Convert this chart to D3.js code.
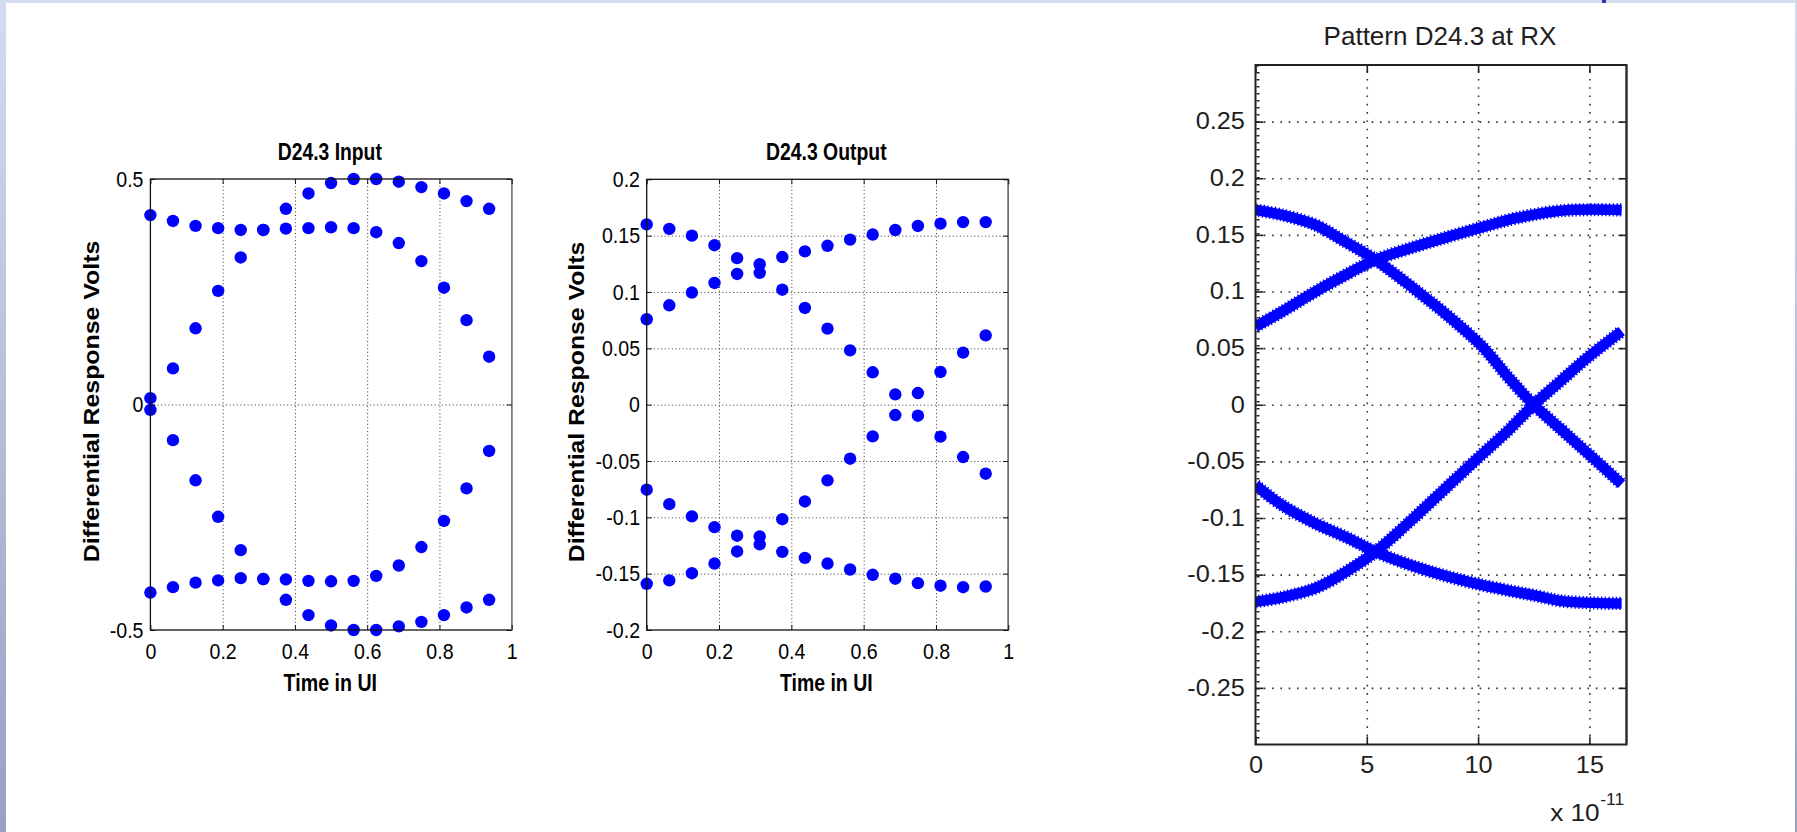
<!DOCTYPE html>
<html><head><meta charset="utf-8">
<script src="https://cdn.jsdelivr.net/npm/d3@7"></script>
<style>
html,body{margin:0;padding:0;background:#fff;}
svg{display:block;}
text{font-family:"Liberation Sans",Arial,Helvetica,sans-serif;}
</style></head><body>
<svg id="c" width="1797" height="832"></svg>
<script>
// ---------------- DATA ----------------
// Panel 1: D24.3 Input (time in UI, volts)
const inputTime   = [0,0.0625,0.125,0.1875,0.25,0.3125,0.375,0.4375,0.5,0.5625,0.625,0.6875,0.75,0.8125,0.875,0.9375];
const inputUpperA = [0.420,0.407,0.396,0.391,0.387,0.387,0.434,0.468,0.491,0.500,0.500,0.494,0.482,0.468,0.451,0.434];
const inputUpperB = [0.014,0.080,0.169,0.252,0.326,0.387,0.390,0.391,0.393,0.391,0.382,0.358,0.318,0.259,0.187,0.106];
const inputLowerA = [-0.417,-0.405,-0.395,-0.390,-0.385,-0.387,-0.433,-0.467,-0.490,-0.500,-0.500,-0.492,-0.482,-0.467,-0.450,-0.433];
const inputLowerB = [-0.012,-0.079,-0.168,-0.249,-0.323,-0.387,-0.388,-0.391,-0.392,-0.391,-0.380,-0.357,-0.316,-0.258,-0.186,-0.103];
const inputXTicks = [0,0.2,0.4,0.6,0.8,1];
const inputXTickLabels = ["0","0.2","0.4","0.6","0.8","1"];
const inputYTicks = [-0.5,0,0.5];
const inputYTickLabels = ["-0.5","0","0.5"];

// Panel 2: D24.3 Output
const outputTime   = [0,0.0625,0.125,0.1875,0.25,0.3125,0.375,0.4375,0.5,0.5625,0.625,0.6875,0.75,0.8125,0.875,0.9375];
const outputUpperA = [0.160,0.156,0.150,0.1415,0.130,0.1246,0.102,0.0858,0.0675,0.0482,0.0287,0.0091,0.0103,0.029,0.0462,0.0615];
const outputUpperB = [0.0758,0.0882,0.0995,0.108,0.116,0.117,0.131,0.136,0.141,0.1465,0.151,0.155,0.1586,0.1607,0.162,0.162];
const outputLowerA = [-0.0755,-0.0883,-0.0992,-0.1087,-0.1163,-0.117,-0.1307,-0.136,-0.141,-0.1463,-0.151,-0.1545,-0.1584,-0.1607,-0.162,-0.1614];
const outputLowerB = [-0.159,-0.156,-0.1496,-0.141,-0.1303,-0.124,-0.1017,-0.0859,-0.0672,-0.048,-0.0282,-0.0092,-0.0098,-0.0284,-0.0465,-0.0613];
const outputXTicks = [0,0.2,0.4,0.6,0.8,1];
const outputXTickLabels = ["0","0.2","0.4","0.6","0.8","1"];
const outputYTicks = [-0.2,-0.15,-0.1,-0.05,0,0.05,0.1,0.15,0.2];
const outputYTickLabels = ["-0.2","-0.15","-0.1","-0.05","0","0.05","0.1","0.15","0.2"];

// Panel 3: Pattern D24.3 at RX (time in units of 1e-11 s, volts)
const rxTraceAx = [0,1.19,2.69,3.89,5.39,7.19,8.69,10.19,11.39,12.5,13.77,14.88,16.45];
const rxTraceAy = [0.172,0.1677,0.1588,0.1456,0.128,0.1014,0.0778,0.0513,0.0235,0.0,-0.0225,-0.042,-0.070];
const rxTraceBx = [0,1.19,2.69,4.19,5.39,7.19,8.69,10.19,11.69,13.77,16.45];
const rxTraceBy = [0.069,0.0822,0.0999,0.1161,0.128,0.1397,0.1485,0.1568,0.1647,0.1714,0.172];
const rxTraceCx = [0,1.19,2.69,4.19,5.39,7.19,8.69,10.06,11.39,12.5,13.77,14.88,16.45];
const rxTraceCy = [-0.174,-0.170,-0.162,-0.146,-0.1298,-0.0985,-0.071,-0.0459,-0.022,0.0,0.022,0.041,0.065];
const rxTraceDx = [0,1.19,2.69,4.19,5.39,7.19,8.69,10.19,11.69,12.7,13.77,16.45];
const rxTraceDy = [-0.0709,-0.0886,-0.1048,-0.118,-0.1298,-0.1431,-0.1519,-0.1593,-0.1652,-0.169,-0.1734,-0.1755];
const rxXTicks = [0,5,10,15];
const rxXTickLabels = ["0","5","10","15"];
const rxYTicks = [-0.25,-0.2,-0.15,-0.1,-0.05,0,0.05,0.1,0.15,0.2,0.25];
const rxYTickLabels = ["-0.25","-0.2","-0.15","-0.1","-0.05","0","0.05","0.1","0.15","0.2","0.25"];

// ---------------- DRAWING ----------------
const svg = d3.select("#c");
const defs = svg.append("defs");
const grad = defs.append("linearGradient").attr("id","edge").attr("x1",0).attr("y1",0).attr("x2",0).attr("y2",1);
grad.append("stop").attr("offset","0%").attr("stop-color","#d3dbef");
grad.append("stop").attr("offset","100%").attr("stop-color","#96a2c2");

svg.append("rect").attr("width",1797).attr("height",832).attr("fill","#fff");
svg.append("rect").attr("x",0).attr("y",0).attr("width",1797).attr("height",3).attr("fill","#d4dcf0");
svg.append("rect").attr("x",0).attr("y",0).attr("width",6).attr("height",832).attr("fill","url(#edge)");
svg.append("rect").attr("x",1795).attr("y",0).attr("width",2).attr("height",832).attr("fill","url(#edge)");
svg.append("rect").attr("x",1602).attr("y",0).attr("width",4).attr("height",3).attr("fill","#2b3aa6");

function fitText(sel, width, squish, baseTransform){
  const w0 = sel.node().getComputedTextLength();
  sel.attr("transform", `${baseTransform} scale(${width / w0},${squish})`);
}

function panel(o){
  const x = d3.scaleLinear().domain(o.xDomain).range([o.left, o.right]);
  const y = d3.scaleLinear().domain(o.yDomain).range([o.bottom, o.top]);
  const W = o.right - o.left, H = o.bottom - o.top;
  const root = svg.append("g");

  // grid
  const gx = root.append("g").attr("transform", `translate(0,${o.bottom})`)
    .call(d3.axisBottom(x).tickValues(o.xGrid).tickSize(-H).tickFormat(""));
  const gy = root.append("g").attr("transform", `translate(${o.left},0)`)
    .call(d3.axisLeft(y).tickValues(o.yGrid).tickSize(-W).tickFormat(""));
  [gx, gy].forEach(g => {
    g.select(".domain").remove();
    g.selectAll("text").remove();
    g.selectAll("line").attr("stroke", o.gridColor).attr("stroke-width", o.gridW).attr("stroke-dasharray", o.gridDash);
  });

  // data
  const clipId = "clip" + o.id;
  defs.append("clipPath").attr("id", clipId).append("rect")
    .attr("x", o.left).attr("y", o.top).attr("width", W).attr("height", H);
  const data = root.append("g");
  if (o.dotSeries) {
    o.dotSeries.forEach(s => {
      data.selectAll(null).data(s.y).enter().append("circle")
        .attr("cx", (d,i) => x(s.x[i])).attr("cy", d => y(d)).attr("r", 6.2).attr("fill", "#0000ff");
    });
  }
  if (o.bandSeries) {
    const dg = data.append("g").attr("clip-path", `url(#${clipId})`);
    const line = d3.line().x(d => x(d[0])).y(d => y(d[1])).curve(d3.curveCatmullRom.alpha(0.5));
    o.bandSeries.forEach(s => {
      const pts = s.x.map((v,i) => [v, s.y[i]]);
      dg.append("path").attr("d", line(pts)).attr("fill","none").attr("stroke","#0000ff")
        .attr("stroke-width", 10.5).attr("stroke-linejoin","round");
      dg.append("path").attr("d", line(pts)).attr("fill","none").attr("stroke","#0000ff")
        .attr("stroke-width", 13.2).attr("stroke-dasharray","1.3,2.4");
    });
  }

  // box
  root.append("rect").attr("x", o.left).attr("y", o.top).attr("width", W).attr("height", H)
    .attr("fill","none").attr("stroke", o.boxColor).attr("stroke-width", o.boxW);
  root.append("line").attr("x1", o.right).attr("x2", o.right).attr("y1", o.top).attr("y2", o.bottom)
    .attr("stroke", o.rightColor).attr("stroke-width", o.boxW);
  if (o.minorLeft) {
    root.append("line").attr("x1", o.left + 2.5).attr("x2", o.left + 2.5).attr("y1", o.top).attr("y2", o.bottom)
      .attr("stroke", "#222").attr("stroke-width", 3).attr("stroke-dasharray", "1.4,5.6");
  }

  // ticks with labels
  const tickStyle = g => {
    g.attr("font-size", null).attr("font-family", null);
    g.select(".domain").remove();
    g.selectAll(".tick line").attr("stroke", o.boxColor).attr("stroke-width", o.tickW);
    g.selectAll(".tick text").attr("font-size", o.tickFont).attr("fill", o.textColor)
      .attr("transform", `scale(${o.sx},1)`);
  };
  root.append("g").attr("transform", `translate(${o.left},0)`)
    .call(d3.axisLeft(y).tickValues(o.yTicks).tickFormat((d,i) => o.yLabels[i])
      .tickSizeInner(-o.tickLen).tickSizeOuter(0).tickPadding(o.yGap / o.sx))
    .call(tickStyle);
  root.append("g").attr("transform", `translate(0,${o.bottom})`)
    .call(d3.axisBottom(x).tickValues(o.xTicks).tickFormat((d,i) => o.xLabels[i])
      .tickSizeInner(-o.tickLen).tickSizeOuter(0).tickPadding(o.xBase - 0.71 * o.tickFont))
    .call(tickStyle);
  root.append("g").attr("transform", `translate(${o.right},0)`)
    .call(d3.axisRight(y).tickValues(o.yTicks).tickFormat("").tickSizeInner(-o.tickLen).tickSizeOuter(0))
    .call(tickStyle);
  root.append("g").attr("transform", `translate(0,${o.top})`)
    .call(d3.axisTop(x).tickValues(o.xTicks).tickFormat("").tickSizeInner(-o.tickLen).tickSizeOuter(0))
    .call(tickStyle);

  // title
  const t = root.append("text").attr("text-anchor","middle").attr("font-size", o.title.size)
    .attr("font-weight", o.title.weight).attr("fill", o.textColor).text(o.title.text);
  fitText(t, o.title.width, 1, `translate(${o.title.x},${o.title.y})`);
  if (o.xLabel) {
    const xl = root.append("text").attr("text-anchor","middle").attr("font-size", o.xLabel.size)
      .attr("font-weight","bold").attr("fill", o.textColor).text(o.xLabel.text);
    fitText(xl, o.xLabel.width, 1, `translate(${o.xLabel.x},${o.xLabel.y})`);
  }
  if (o.yLabel) {
    const yl = root.append("text").attr("text-anchor","middle").attr("font-size", o.yLabel.size)
      .attr("font-weight","bold").attr("fill", o.textColor).text(o.yLabel.text);
    fitText(yl, o.yLabel.length, o.yLabel.squish, `translate(${o.yLabel.x},${o.yLabel.y}) rotate(-90)`);
  }
  return {root, x, y};
}

// Panel 1
panel({
  id: 1, left: 150.4, right: 511.7, top: 179, bottom: 630,
  xDomain: [0,1], yDomain: [-0.5,0.5],
  xGrid: inputXTicks.slice(1,-1), yGrid: [0],
  xTicks: inputXTicks, xLabels: inputXTickLabels, yTicks: inputYTicks, yLabels: inputYTickLabels,
  gridColor: "#333", gridW: 1, gridDash: "1,2.6",
  boxColor: "#111", rightColor: "#808080", boxW: 1.3, tickW: 1, tickLen: 5,
  tickFont: 22.5, sx: 0.87, yGap: 6.9, xBase: 29.3, textColor: "#000",
  dotSeries: [
    {x: inputTime, y: inputUpperA}, {x: inputTime, y: inputUpperB},
    {x: inputTime, y: inputLowerA}, {x: inputTime, y: inputLowerB}
  ],
  title: {text: "D24.3 Input", x: 329.8, y: 160, size: 24, weight: "bold", width: 104.1},
  xLabel: {text: "Time in UI", x: 330.3, y: 690.7, size: 24, width: 93.5},
  yLabel: {text: "Differential Response Volts", x: 99.3, y: 401.5, size: 24, length: 321.7, squish: 0.93}
});

// Panel 2
panel({
  id: 2, left: 646.7, right: 1008.3, top: 179.3, bottom: 630,
  xDomain: [0,1], yDomain: [-0.2,0.2],
  xGrid: outputXTicks.slice(1,-1), yGrid: outputYTicks.slice(1,-1),
  xTicks: outputXTicks, xLabels: outputXTickLabels, yTicks: outputYTicks, yLabels: outputYTickLabels,
  gridColor: "#333", gridW: 1, gridDash: "1,2.6",
  boxColor: "#111", rightColor: "#707070", boxW: 1.3, tickW: 1, tickLen: 5,
  tickFont: 22.5, sx: 0.87, yGap: 6.7, xBase: 29.3, textColor: "#000",
  dotSeries: [
    {x: outputTime, y: outputUpperA}, {x: outputTime, y: outputUpperB},
    {x: outputTime, y: outputLowerA}, {x: outputTime, y: outputLowerB}
  ],
  title: {text: "D24.3 Output", x: 826.3, y: 159.5, size: 24, weight: "bold", width: 120.7},
  xLabel: {text: "Time in UI", x: 826.3, y: 690.7, size: 24, width: 92.7},
  yLabel: {text: "Differential Response Volts", x: 584, y: 402, size: 24, length: 320.6, squish: 0.9}
});

// Panel 3
const p3 = panel({
  id: 3, left: 1255.5, right: 1626.5, top: 65, bottom: 744.5,
  xDomain: [0, 16.6667], yDomain: [-0.3,0.3],
  xGrid: rxXTicks.slice(1), yGrid: rxYTicks,
  xTicks: rxXTicks, xLabels: rxXTickLabels, yTicks: rxYTicks, yLabels: rxYTickLabels,
  gridColor: "#333", gridW: 1.6, gridDash: "1.6,6.7",
  boxColor: "#222", rightColor: "#333", boxW: 2, tickW: 1.6, tickLen: 8,
  tickFont: 23, sx: 1.1, yGap: 10.6, xBase: 28.8, textColor: "#1e1e1e",
  minorLeft: true,
  bandSeries: [
    {x: rxTraceAx, y: rxTraceAy}, {x: rxTraceBx, y: rxTraceBy},
    {x: rxTraceCx, y: rxTraceCy}, {x: rxTraceDx, y: rxTraceDy}
  ],
  title: {text: "Pattern D24.3 at RX", x: 1440, y: 45, size: 25.5, weight: "normal", width: 233}
});

// exponent label
const ex = p3.root.append("text").attr("font-size", 23).attr("fill", "#1e1e1e").text("x 10");
fitText(ex, 49.5, 1, "translate(1550.2,820.7)");
const ex2 = p3.root.append("text").attr("font-size", 16).attr("fill", "#1e1e1e").text("-11");
fitText(ex2, 24, 1, "translate(1600.2,805)");
</script>
</body></html>
